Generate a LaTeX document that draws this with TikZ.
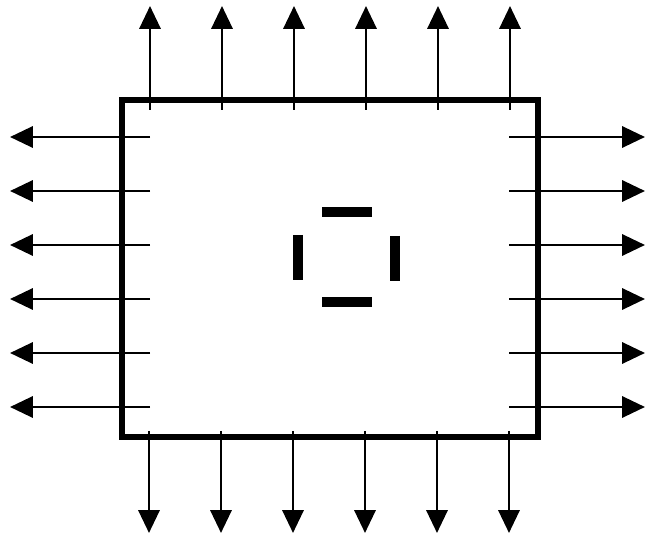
\documentclass[tikz,border=0pt]{standalone}
\usetikzlibrary{arrows.meta,positioning}
\tikzset{
    >={Triangle[length=13pt,width=12pt]},
    pin/.style={draw, line width=1.6pt, ->},
    chip/.style={draw, line width=3.6pt},
    centrebar/.style={line width=5.6pt},
}

\begin{document}
\begin{tikzpicture}[x=0.02cm, y=-0.02cm]
\useasboundingbox (0,0) rectangle (647,537);
\coordinate (nw) at (122,100);
\coordinate (se) at (538,437);
\draw[chip] (nw) rectangle (se);

% pins top and bottom
\foreach \i in {0,...,5} {
    \coordinate (t\i) at (150+72*\i,110);
    \coordinate (tt\i) at (150+72*\i,6);
    \coordinate (b\i) at (149+72*\i,431);
    \coordinate (bb\i) at (149+72*\i,533);
    \draw[pin] (t\i) -- (tt\i);
    \draw[pin] (b\i) -- (bb\i);
}
% pins left and right
\foreach \i in {0,...,5} {
    \coordinate (l\i) at (150,137+54*\i);
    \coordinate (ll\i) at (10,137+54*\i);
    \coordinate (r\i) at (509,137+54*\i);
    \coordinate (rr\i) at (645,137+54*\i);
    \draw[pin] (l\i) -- (ll\i);
    \draw[pin] (r\i) -- (rr\i);
}

% centre marks
\draw[centrebar] (322,212) -- (372,212);
\draw[centrebar] (322,302) -- (372,302);
\draw[centrebar] (298,235) -- (298,280);
\draw[centrebar] (395,236) -- (395,281);
\end{tikzpicture}
\end{document}
